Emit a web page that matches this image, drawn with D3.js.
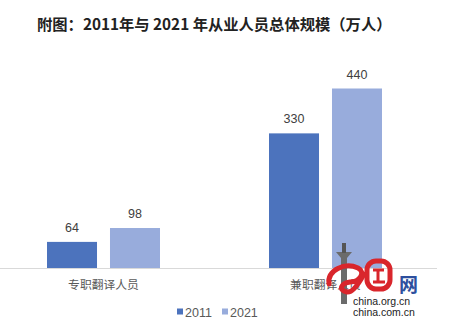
<!DOCTYPE html>
<html>
<head>
<meta charset="utf-8">
<script src="https://cdn.jsdelivr.net/npm/d3@7/dist/d3.min.js"></script>
<style>
  html, body { margin: 0; padding: 0; background: #fff; }
  svg { display: block; }
</style>
</head>
<body>
<svg id="chart" width="452" height="324"></svg>
<script>
// Practitioner totals (10k people), 2011 vs 2021
const categories = ["专职翻译人员", "兼职翻译人员"];
const seriesNames = ["2011", "2021"];
const values2011 = [64, 330];
const values2021 = [98, 440];
const colors = ["#4c73bd", "#98acdc"];

const svg = d3.select("#chart");
const font = "'Noto Sans CJK SC', 'Noto Sans', sans-serif";
const latin = "'Liberation Sans', Arial, sans-serif";

// Title
svg.append("text")
  .attr("x", 37).attr("y", 30)
  .attr("font-family", font)
  .attr("font-size", 15.3)
  .attr("font-weight", "bold")
  .attr("fill", "#222")
  .text("附图：2011年与 2021 年从业人员总体规模（万人）");

const baseY = 268;
const groupW = 113;
const x0 = d3.scaleBand().domain(categories).range([-7.5, 436.5]);
const x1 = d3.scaleBand().domain(seriesNames).range([0, groupW]).paddingInner(0.206).paddingOuter(0);
const y = d3.scaleLinear().domain([0, 440]).range([baseY, 88.5]);

const rows = categories.map((c, i) => ({ cat: c, vals: [values2011[i], values2021[i]] }));

const groups = svg.selectAll("g.grp").data(rows).join("g")
  .attr("class", "grp")
  .attr("transform", d => `translate(${x0(d.cat) + (x0.bandwidth() - groupW) / 2},0)`);

groups.selectAll("rect").data(d => d.vals.map((v, k) => ({ v, k }))).join("rect")
  .attr("x", d => x1(seriesNames[d.k]))
  .attr("y", d => y(d.v))
  .attr("width", x1.bandwidth())
  .attr("height", d => baseY - y(d.v))
  .attr("fill", d => colors[d.k]);

groups.selectAll("text.val").data(d => d.vals.map((v, k) => ({ v, k }))).join("text")
  .attr("class", "val")
  .attr("x", d => x1(seriesNames[d.k]) + x1.bandwidth() / 2)
  .attr("y", d => y(d.v) - 10)
  .attr("text-anchor", "middle")
  .attr("font-family", latin)
  .attr("font-size", 12.5)
  .attr("fill", "#404040")
  .text(d => d.v);

// Baseline axis
svg.append("line")
  .attr("x1", 0).attr("x2", 437)
  .attr("y1", baseY + 0.5).attr("y2", baseY + 0.5)
  .attr("stroke", "#d9d9d9").attr("stroke-width", 1);

// Category labels
svg.selectAll("text.cat").data(categories).join("text")
  .attr("class", "cat")
  .attr("x", d => x0(d) + x0.bandwidth() / 2)
  .attr("y", 289)
  .attr("text-anchor", "middle")
  .attr("font-family", font)
  .attr("font-size", 11.8)
  .attr("fill", "#595959")
  .text(d => d);

// Legend
const legendX = [177, 222];
const lg = svg.selectAll("g.lg").data(seriesNames).join("g")
  .attr("class", "lg")
  .attr("transform", (d, i) => `translate(${legendX[i]},0)`);
lg.append("rect").attr("x", 0).attr("y", 308.5).attr("width", 6).attr("height", 6)
  .attr("fill", (d, i) => colors[i]);
lg.append("text").attr("x", 8).attr("y", 316.5)
  .attr("font-family", latin)
  .attr("font-size", 12.5)
  .attr("fill", "#595959")
  .text(d => d);

// Site emblem: grey pillar, red swirl and ring, blue character and addresses
const mark = svg.append("g");
mark.append("path")
  .attr("d", "M336,252 L352,252 L347,258 L347,304 L341,304 L341,258 Z")
  .attr("fill", "#6b6b6b");
mark.append("rect").attr("x", 342).attr("y", 243).attr("width", 4).attr("height", 10).attr("fill", "#555");
mark.append("path")
  .attr("d", "M329,284 C327,270 345,262 358,268 C366,272 360,282 350,282 C342,283 337,290 347,292 C352,293 358,285 364,274")
  .attr("fill", "none").attr("stroke", "#d9262c").attr("stroke-width", 5).attr("stroke-linecap", "round");
mark.append("rect").attr("x", 367).attr("y", 261).attr("width", 23).attr("height", 28).attr("rx", 9)
  .attr("fill", "none").attr("stroke", "#d9262c").attr("stroke-width", 5);
mark.append("path").attr("d", "M373,270 L384,270 M378,270 L378,282 M373,282 L385,282")
  .attr("stroke", "#d9262c").attr("stroke-width", 3);
mark.append("text").attr("x", 399).attr("y", 292).attr("font-size", 19)
  .attr("font-family", font).attr("font-weight", "bold").attr("fill", "#2d4f9e").text("网");
mark.append("text").attr("x", 353).attr("y", 305).attr("font-size", 10.5)
  .attr("font-family", latin).attr("fill", "#222").text("china.org.cn");
mark.append("text").attr("x", 353).attr("y", 316).attr("font-size", 10.5)
  .attr("font-family", latin).attr("fill", "#222").text("china.com.cn");
</script>
</body>
</html>
